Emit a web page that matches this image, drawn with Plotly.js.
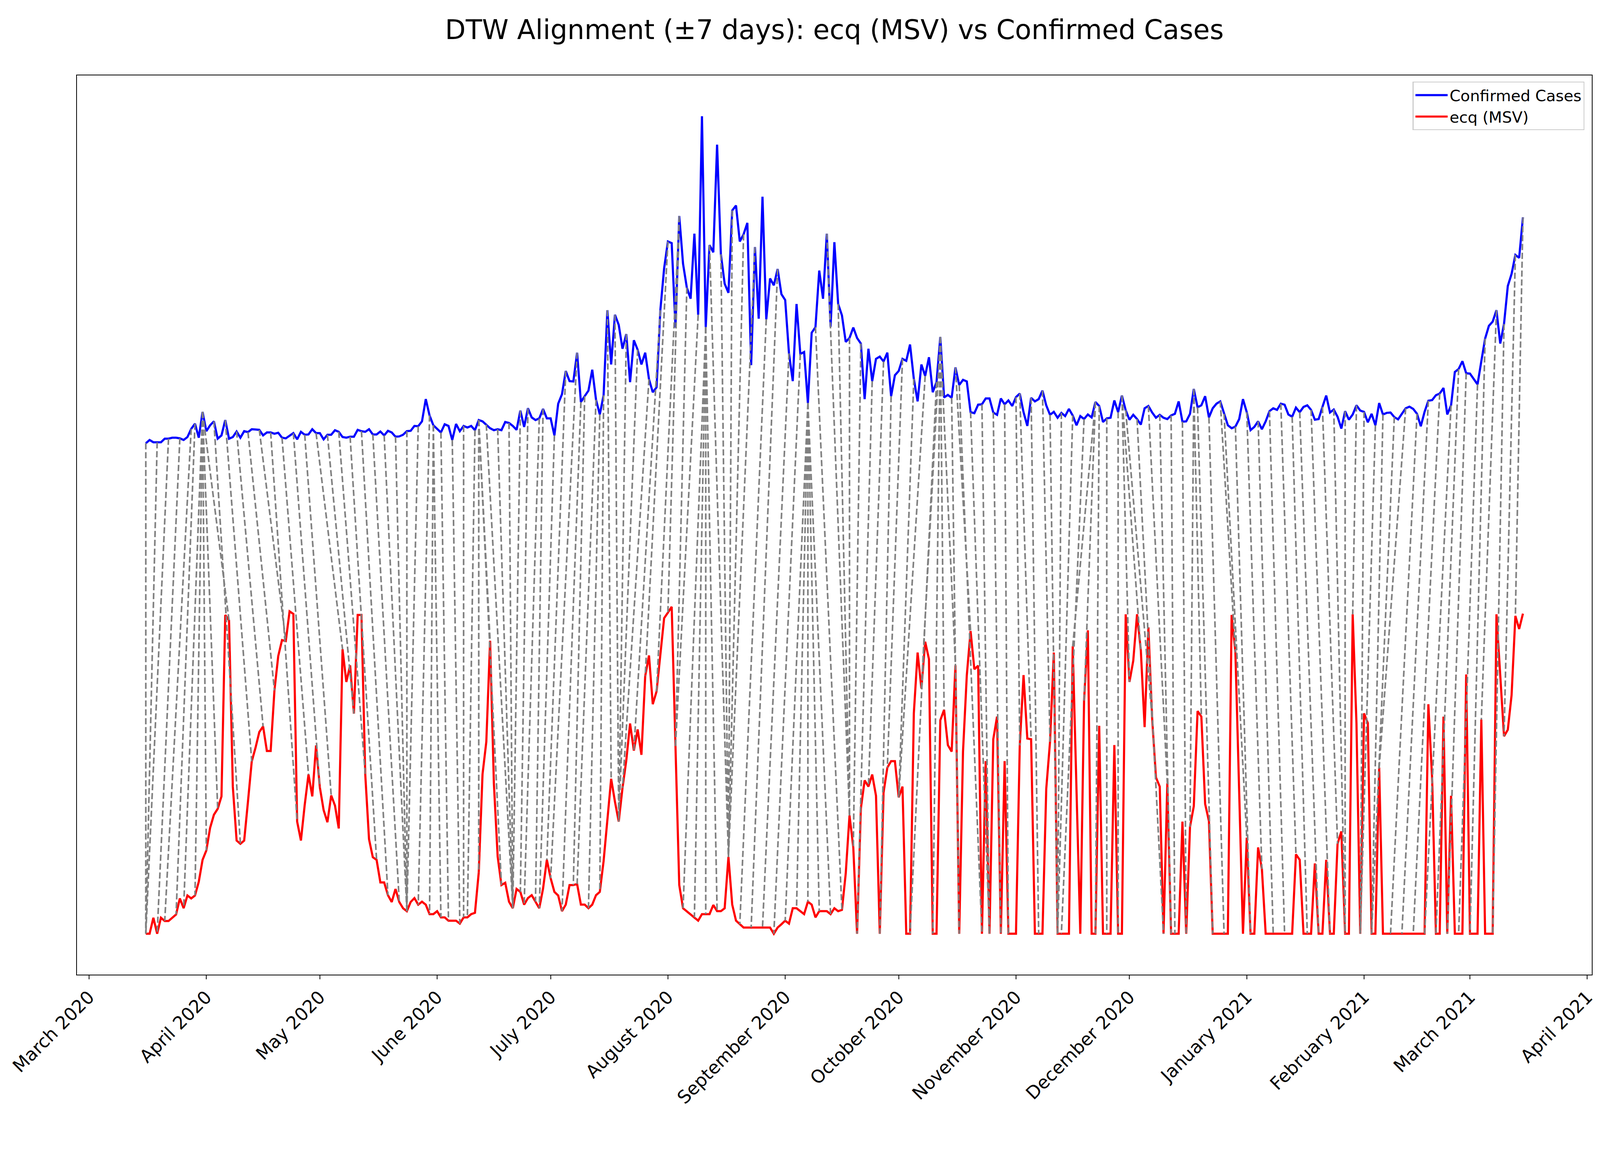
<!DOCTYPE html>
<html>
<head>
<meta charset="utf-8">
<script src="https://cdn.plot.ly/plotly-3.0.1.min.js"></script>
<style>
  html, body { margin: 0; padding: 0; background: white; overflow: hidden; }
  #chart { width: 100vw; height: 100vh; }
</style>
</head>
<body>
<div id="chart"></div>
<script>
// daily series, both min-max normalised (0..1), first day 2020-03-16
var startDay = '2020-03-16';
var offset = 1.5;      // confirmed cases drawn above the ecq line
var window7 = 7;       // DTW window (days)
var lineStep = 3;      // draw every 3rd pair of the warping path

var confirmed = [
  0, 0.010, 0.003, 0.003, 0.003, 0.014, 0.014, 0.017, 0.017, 0.015,
  0.010, 0.019, 0.044, 0.060, 0.017, 0.096, 0.037, 0.055, 0.067, 0.014,
  0.024, 0.071, 0.014, 0.019, 0.036, 0.017, 0.037, 0.034, 0.043, 0.042,
  0.041, 0.024, 0.033, 0.033, 0.029, 0.032, 0.017, 0.015, 0.024, 0.031,
  0.012, 0.035, 0.026, 0.027, 0.043, 0.031, 0.031, 0.012, 0.026, 0.026,
  0.040, 0.035, 0.019, 0.017, 0.020, 0.020, 0.041, 0.037, 0.035, 0.043,
  0.027, 0.027, 0.036, 0.024, 0.038, 0.033, 0.020, 0.021, 0.026, 0.037,
  0.038, 0.053, 0.052, 0.067, 0.135, 0.085, 0.055, 0.043, 0.033, 0.058,
  0.053, 0.010, 0.059, 0.037, 0.053, 0.048, 0.053, 0.040, 0.071, 0.067,
  0.057, 0.046, 0.040, 0.043, 0.040, 0.065, 0.062, 0.053, 0.041, 0.100,
  0.050, 0.107, 0.079, 0.071, 0.076, 0.105, 0.076, 0.076, 0.024, 0.121,
  0.150, 0.221, 0.190, 0.189, 0.277, 0.126, 0.144, 0.161, 0.225, 0.133,
  0.088, 0.147, 0.407, 0.241, 0.393, 0.362, 0.289, 0.334, 0.187, 0.315,
  0.286, 0.241, 0.277, 0.196, 0.156, 0.171, 0.407, 0.535, 0.617, 0.612,
  0.354, 0.695, 0.549, 0.476, 0.442, 0.641, 0.393, 1.000, 0.355, 0.606,
  0.584, 0.913, 0.578, 0.488, 0.460, 0.712, 0.727, 0.617, 0.639, 0.674,
  0.239, 0.600, 0.381, 0.754, 0.379, 0.504, 0.483, 0.533, 0.456, 0.438,
  0.275, 0.190, 0.426, 0.273, 0.279, 0.123, 0.338, 0.355, 0.528, 0.442,
  0.641, 0.356, 0.615, 0.426, 0.391, 0.310, 0.322, 0.354, 0.322, 0.305,
  0.135, 0.289, 0.190, 0.258, 0.265, 0.250, 0.277, 0.144, 0.208, 0.221,
  0.258, 0.252, 0.302, 0.197, 0.128, 0.241, 0.206, 0.263, 0.156, 0.187,
  0.325, 0.140, 0.148, 0.139, 0.232, 0.178, 0.194, 0.189, 0.095, 0.092,
  0.118, 0.119, 0.137, 0.137, 0.094, 0.087, 0.137, 0.119, 0.131, 0.114,
  0.141, 0.152, 0.095, 0.053, 0.139, 0.128, 0.135, 0.161, 0.116, 0.087,
  0.096, 0.078, 0.093, 0.083, 0.105, 0.085, 0.055, 0.083, 0.074, 0.088,
  0.079, 0.126, 0.114, 0.065, 0.076, 0.078, 0.131, 0.095, 0.146, 0.101,
  0.072, 0.087, 0.074, 0.057, 0.107, 0.114, 0.094, 0.078, 0.087, 0.078,
  0.074, 0.085, 0.090, 0.128, 0.066, 0.067, 0.090, 0.166, 0.110, 0.116,
  0.144, 0.079, 0.107, 0.121, 0.128, 0.090, 0.055, 0.046, 0.051, 0.074,
  0.135, 0.095, 0.040, 0.050, 0.067, 0.043, 0.067, 0.098, 0.107, 0.102,
  0.121, 0.118, 0.088, 0.081, 0.109, 0.095, 0.111, 0.116, 0.102, 0.072,
  0.074, 0.111, 0.146, 0.094, 0.103, 0.081, 0.045, 0.098, 0.072, 0.088,
  0.116, 0.100, 0.096, 0.064, 0.090, 0.055, 0.123, 0.088, 0.093, 0.094,
  0.080, 0.073, 0.090, 0.107, 0.112, 0.105, 0.090, 0.052, 0.096, 0.130,
  0.132, 0.147, 0.152, 0.169, 0.088, 0.116, 0.218, 0.227, 0.251, 0.214,
  0.213, 0.197, 0.180, 0.251, 0.320, 0.359, 0.372, 0.407, 0.305, 0.365,
  0.481, 0.518, 0.576, 0.567, 0.691
];

var ecq = [
  0, 0, 0.049, 0, 0.049, 0.039, 0.039, 0.049, 0.059, 0.108,
  0.078, 0.117, 0.108, 0.117, 0.159, 0.226, 0.255, 0.324, 0.364, 0.382,
  0.420, 0.975, 0.958, 0.450, 0.285, 0.275, 0.285, 0.404, 0.527, 0.569,
  0.617, 0.634, 0.559, 0.559, 0.744, 0.849, 0.898, 0.895, 0.986, 0.978,
  0.343, 0.285, 0.394, 0.487, 0.420, 0.576, 0.448, 0.378, 0.341, 0.423,
  0.392, 0.322, 0.870, 0.770, 0.821, 0.673, 0.975, 0.975, 0.488, 0.289,
  0.234, 0.226, 0.157, 0.157, 0.118, 0.097, 0.137, 0.097, 0.078, 0.069,
  0.097, 0.109, 0.089, 0.098, 0.089, 0.060, 0.060, 0.069, 0.050, 0.050,
  0.040, 0.040, 0.040, 0.031, 0.050, 0.050, 0.060, 0.064, 0.187, 0.488,
  0.587, 0.896, 0.460, 0.236, 0.149, 0.156, 0.098, 0.078, 0.137, 0.128,
  0.089, 0.109, 0.118, 0.098, 0.078, 0.138, 0.226, 0.170, 0.128, 0.117,
  0.069, 0.089, 0.149, 0.149, 0.152, 0.089, 0.089, 0.078, 0.089, 0.118,
  0.128, 0.222, 0.348, 0.474, 0.404, 0.343, 0.446, 0.530, 0.643, 0.560,
  0.625, 0.547, 0.788, 0.851, 0.702, 0.741, 0.853, 0.965, 0.982, 1.000,
  0.573, 0.149, 0.078, 0.068, 0.060, 0.050, 0.040, 0.060, 0.060, 0.060,
  0.088, 0.069, 0.069, 0.078, 0.235, 0.089, 0.040, 0.029, 0.019, 0.019,
  0.019, 0.019, 0.019, 0.019, 0.019, 0.019, 0, 0.019, 0.029, 0.040,
  0.031, 0.078, 0.078, 0.069, 0.060, 0.098, 0.089, 0.050, 0.069, 0.069,
  0.069, 0.060, 0.078, 0.069, 0.073, 0.184, 0.362, 0.264, 0, 0.383,
  0.469, 0.450, 0.487, 0.422, 0, 0.432, 0.508, 0.528, 0.528, 0.417,
  0.450, 0, 0, 0.674, 0.860, 0.750, 0.893, 0.840, 0, 0,
  0.653, 0.685, 0.577, 0.557, 0.821, 0, 0.557, 0.790, 0.926, 0.809,
  0.820, 0, 0.528, 0, 0.595, 0.664, 0, 0.528, 0, 0,
  0, 0.576, 0.791, 0.597, 0.595, 0, 0, 0, 0.443, 0.587,
  0.860, 0, 0, 0, 0, 0.879, 0.467, 0, 0.713, 0.928,
  0, 0, 0.636, 0, 0, 0, 0.577, 0, 0, 0.977,
  0.770, 0.835, 0.977, 0.867, 0.632, 0.937, 0.657, 0.478, 0.450, 0,
  0.460, 0, 0, 0, 0.343, 0, 0.327, 0.390, 0.681, 0.664,
  0.397, 0.345, 0, 0, 0, 0, 0, 0.975, 0.860, 0.432,
  0, 0.294, 0, 0, 0.264, 0.198, 0, 0, 0, 0,
  0, 0, 0, 0, 0.243, 0.226, 0, 0, 0, 0.215,
  0, 0, 0.226, 0, 0, 0.275, 0.313, 0, 0, 0.977,
  0.643, 0, 0.674, 0.644, 0, 0, 0.508, 0, 0, 0,
  0, 0, 0, 0, 0, 0, 0, 0, 0, 0.702,
  0.474, 0, 0, 0.664, 0, 0.422, 0, 0, 0, 0.793,
  0, 0, 0, 0.655, 0, 0, 0, 0.977, 0.797, 0.604,
  0.624, 0.730, 0.972, 0.932, 0.979
];

var DAY = 86400000;
var t0 = Date.parse(startDay + 'T00:00:00Z');

function isoDay(ms) {
  return new Date(ms).toISOString().slice(0, 19).replace('T', ' ');
}

var dates = confirmed.map((v, i) => isoDay(t0 + i * DAY).slice(0, 10));
var confirmedShifted = confirmed.map(v => v + offset);

// DTW with a Sakoe-Chiba band, returns the warping path as [i, j] pairs
function dtwPath(a, b, w) {
  var n = a.length, m = b.length;
  var D = [];
  for (var i = 0; i <= n; i++) {
    D.push(new Array(m + 1).fill(Infinity));
  }
  D[0][0] = 0;
  for (var i = 1; i <= n; i++) {
    for (var j = Math.max(1, i - w); j <= Math.min(m, i + w); j++) {
      var c = (a[i - 1] - b[j - 1]) * (a[i - 1] - b[j - 1]);
      D[i][j] = c + Math.min(D[i - 1][j], D[i][j - 1], D[i - 1][j - 1]);
    }
  }
  var path = [[n - 1, m - 1]];
  var i = n, j = m;
  while (i > 1 || j > 1) {
    if (i === 1) { j--; }
    else if (j === 1) { i--; }
    else {
      var diag = D[i - 1][j - 1], up = D[i - 1][j], left = D[i][j - 1];
      if (diag <= up && diag <= left) { i--; j--; }
      else if (up <= left) { i--; }
      else { j--; }
    }
    path.push([i - 1, j - 1]);
  }
  return path.reverse();
}

var path = dtwPath(confirmed, ecq, window7);
var linkX = [], linkY = [];
for (var k = 0; k < path.length; k += lineStep) {
  var p = path[k];
  linkX.push(dates[p[0]], dates[p[1]], null);
  linkY.push(confirmedShifted[p[0]], ecq[p[1]], null);
}

// the window can be narrower than 5962 px, so sizes follow the real window
var W = window.innerWidth || 5962;
var H = window.innerHeight || 2967;
var sx = W / 5962, sy = H / 2967, sf = Math.min(sx, sy);

var data = [
  {
    x: dates,
    y: confirmedShifted,
    name: 'Confirmed Cases',
    type: 'scatter',
    mode: 'lines',
    line: { color: 'rgb(0,0,255)', width: 8 * sf }
  },
  {
    x: dates,
    y: ecq,
    name: 'ecq (MSV)',
    type: 'scatter',
    mode: 'lines',
    line: { color: 'rgb(255,0,0)', width: 8 * sf }
  },
  {
    x: linkX,
    y: linkY,
    type: 'scatter',
    mode: 'lines',
    showlegend: false,
    hoverinfo: 'skip',
    connectgaps: false,
    line: { color: 'rgb(128,128,128)', width: 6 * sf, dash: (23 * sf).toFixed(1) + 'px,' + (10 * sf).toFixed(1) + 'px' }
  }
];

var n = confirmed.length;
var pad = (n - 1) * 0.05;

var layout = {
  width: W,
  height: H,
  margin: { l: 287 * sx, r: 30 * sx, t: 193 * sy, b: 472 * sy },
  paper_bgcolor: 'white',
  plot_bgcolor: 'white',
  font: { family: 'DejaVu Sans', color: 'black' },
  title: {
    text: 'DTW Alignment (±7 days): ecq (MSV) vs Confirmed Cases',
    font: { size: 100 * sf, family: 'DejaVu Sans', color: 'black' },
    x: 0.5,
    xref: 'paper',
    xanchor: 'center',
    y: 1 - 76 / 2967,
    yref: 'container',
    yanchor: 'middle'
  },
  xaxis: {
    type: 'date',
    range: [isoDay(t0 - pad * DAY), isoDay(t0 + (n - 1 + pad) * DAY)],
    tick0: '2020-03-01',
    dtick: 'M1',
    tickformat: '%B %Y',
    tickangle: -45,
    ticks: 'outside',
    ticklen: 15 * sf,
    tickwidth: 3 * sf,
    tickcolor: 'black',
    tickfont: { size: 67 * sf, family: 'DejaVu Sans', color: 'black' },
    showgrid: false,
    zeroline: false,
    showline: true,
    mirror: true,
    linecolor: 'black',
    linewidth: 3 * sf,
    automargin: false
  },
  yaxis: {
    range: [-0.125, 2.625],
    showticklabels: false,
    ticks: '',
    showgrid: false,
    zeroline: false,
    showline: true,
    mirror: true,
    linecolor: 'black',
    linewidth: 3 * sf,
    automargin: false
  },
  legend: {
    x: 1 - 27 / 5645,
    y: 0.993,
    xanchor: 'right',
    yanchor: 'top',
    bgcolor: 'rgba(255,255,255,0.8)',
    bordercolor: '#cccccc',
    borderwidth: 3 * sf,
    itemwidth: Math.max(30, 120 * sf),
    font: { size: 58 * sf, family: 'DejaVu Sans', color: 'black' }
  },
  showlegend: true
};

Plotly.newPlot('chart', data, layout, { staticPlot: true });
</script>
</body>
</html>
